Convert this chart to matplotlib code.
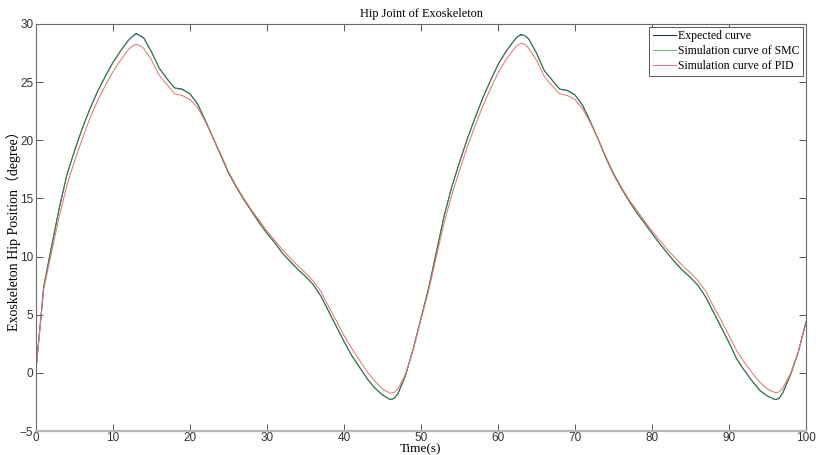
import numpy as np
import matplotlib
matplotlib.use("Agg")
import matplotlib.pyplot as plt

# values
t = [0, 0.5, 1, 2, 3, 4, 5, 6, 7, 8, 9, 10, 11, 12, 12.5, 13, 13.5, 14, 15, 16,
     17, 18, 19, 20, 21, 22, 23, 24, 25, 26, 27, 28, 29, 30, 31, 32, 33, 34, 35,
     36, 37, 38, 39, 40, 41, 42, 43, 44, 45, 46, 46.5, 47, 48, 49,
     50, 51, 52, 53, 54, 55, 56, 57, 58, 59, 60, 61, 62, 62.5, 63, 63.5, 64, 65,
     66, 67, 68, 69, 70, 71, 72, 73, 74, 75, 76, 77, 78, 79, 80, 81, 82, 83, 84,
     85, 86, 87, 88, 89, 90, 91, 92, 93, 94, 95, 96, 96.5, 97, 98, 99, 100]

expected = [0.3, 3.8, 7.4, 10.8, 14.1, 17.0, 19.1, 21.0, 22.7, 24.2, 25.5, 26.7,
            27.7, 28.6, 28.9, 29.2, 29.0, 28.8, 27.6, 26.2, 25.3, 24.5, 24.4, 24.0,
            23.1, 21.7, 20.2, 18.7, 17.2, 16.0, 14.9, 13.9, 12.9, 12.0, 11.2, 10.3,
            9.6, 8.9, 8.3, 7.6, 6.6, 5.3, 4.0, 2.7, 1.5, 0.5, -0.5, -1.3, -1.9,
            -2.3, -2.2, -1.8, -0.2, 2.1,
            4.7, 7.3, 10.4, 13.5, 16.0, 18.1, 20.1, 21.9, 23.6, 25.1, 26.5, 27.6,
            28.5, 28.9, 29.1, 29.0, 28.7, 27.5, 26.0, 25.2, 24.4, 24.3, 23.9, 23.0,
            21.6, 20.1, 18.5, 17.1, 15.9, 14.8, 13.8, 12.9, 12.0, 11.1, 10.3, 9.5,
            8.8, 8.2, 7.5, 6.5, 5.2, 3.9, 2.6, 1.2, 0.2, -0.7, -1.5, -2.0, -2.3,
            -2.2, -1.7, -0.15, 1.8, 4.4]

smc = [0.3, 3.8, 7.4, 10.8, 14.1, 17.0, 19.1, 21.0, 22.7, 24.2, 25.5, 26.7,
       27.7, 28.6, 28.9, 29.15, 29.0, 28.75, 27.6, 26.2, 25.3, 24.5, 24.35, 24.0,
       23.1, 21.7, 20.2, 18.7, 17.2, 16.0, 14.9, 13.9, 12.9, 12.0, 11.2, 10.3,
       9.55, 8.9, 8.3, 7.6, 6.6, 5.3, 4.0, 2.7, 1.5, 0.5, -0.5, -1.3, -1.9,
       -2.3, -2.2, -1.8, -0.2, 2.1,
       4.7, 7.3, 10.4, 13.5, 16.0, 18.1, 20.1, 21.9, 23.6, 25.1, 26.5, 27.6,
       28.5, 28.9, 29.05, 29.0, 28.7, 27.5, 26.0, 25.2, 24.4, 24.25, 23.9, 23.0,
       21.6, 20.1, 18.5, 17.1, 15.9, 14.8, 13.8, 12.9, 12.0, 11.1, 10.3, 9.5,
       8.8, 8.2, 7.5, 6.5, 5.2, 3.9, 2.6, 1.2, 0.2, -0.7, -1.5, -2.0, -2.3,
       -2.2, -1.7, -0.15, 1.8, 4.4]

pid = [0.3, 3.7, 7.2, 10.3, 13.4, 16.1, 18.2, 20.1, 21.9, 23.4, 24.7, 25.9,
       26.9, 27.8, 28.1, 28.25, 28.15, 27.9, 26.9, 25.6, 24.8, 24.0, 23.85, 23.5,
       22.8, 21.6, 20.2, 18.8, 17.3, 16.1, 15.0, 14.0, 13.1, 12.2, 11.4, 10.6,
       9.9, 9.2, 8.6, 7.9, 7.0, 5.7, 4.5, 3.2, 2.1, 1.1, 0.1, -0.7, -1.4,
       -1.75, -1.7, -1.4, -0.1, 2.0,
       4.6, 7.1, 10.0, 12.9, 15.3, 17.4, 19.4, 21.2, 22.9, 24.4, 25.8, 26.9,
       27.8, 28.15, 28.35, 28.25, 27.9, 26.9, 25.5, 24.7, 24.0, 23.85, 23.5, 22.7,
       21.5, 20.1, 18.6, 17.2, 16.0, 14.9, 14.0, 13.1, 12.2, 11.4, 10.6, 9.9,
       9.2, 8.6, 7.9, 7.0, 5.7, 4.5, 3.2, 1.9, 0.9, 0.0, -0.8, -1.4, -1.7,
       -1.65, -1.3, -0.05, 1.8, 4.3]

labels = ["Expected curve", "Simulation curve of SMC", "Simulation curve of PID"]
colors = ["#1c2a5a", "#3f9a4c", "#e07a78"]

serif = ["Liberation Serif", "Noto Sans CJK SC", "DejaVu Serif"]
plt.rcParams["font.family"] = ["Liberation Sans", "DejaVu Sans"]

fig = plt.figure(figsize=(8.16, 4.55), dpi=100)
ax = fig.add_axes([36 / 816, 1 - 431 / 455, 770 / 816, 407 / 455])

ax.plot(t, expected, color=colors[0], lw=0.75, label=labels[0])
ax.plot(t, smc, color=colors[1], lw=0.75, alpha=0.75, label=labels[1])
ax.plot(t, pid, color=colors[2], lw=0.75, label=labels[2])

ax.set_xlim(0, 100)
ax.set_ylim(-5, 30)
ax.set_xticks(range(0, 101, 10))
ax.set_yticks(range(-5, 31, 5))
ax.tick_params(direction="in", length=5, width=0.7, color="#555555",
               labelsize=8.5, labelcolor="#333333", top=True, right=True, pad=2)
ax.tick_params(axis="x", pad=1)

for s in ["left", "right", "top"]:
    ax.spines[s].set_color("#6a6a6a")
    ax.spines[s].set_linewidth(0.8)
ax.spines["bottom"].set_color("#b8b8b8")
ax.spines["bottom"].set_linewidth(1.6)

ax.set_title("Hip Joint of Exoskeleton", family=serif, fontsize=8.8, pad=5)
ax.set_xlabel("Time(s)", family=serif, fontsize=9.5)
ax.xaxis.set_label_coords(0.5, -0.031)
ax.set_ylabel("Exoskeleton Hip Position（degree）", family=serif, fontsize=10)
ax.yaxis.set_label_coords(-0.019, 0.5)

leg = ax.legend(loc="upper right", prop={"family": serif, "size": 8.5},
                fancybox=False, edgecolor="#555555", framealpha=1,
                handlelength=2.0, handletextpad=0.15, borderaxespad=0.25,
                borderpad=0.3, labelspacing=0.25)
leg.get_frame().set_linewidth(0.7)

plt.savefig("out.png", dpi=100)
